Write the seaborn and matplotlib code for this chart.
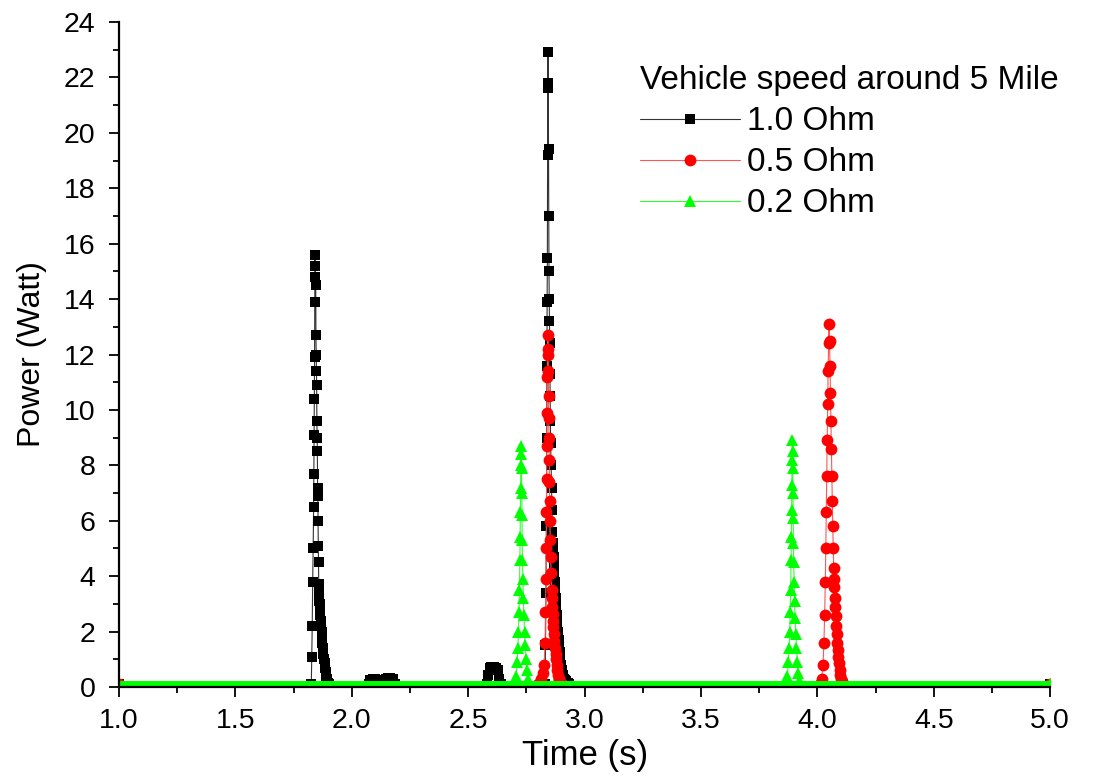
# Power vs time for three load resistances, vehicle speed around 5 mile.

import matplotlib.pyplot as plt
import pandas as pd
import seaborn as sns

# baseline level between pulses
t_ends = [1.0, 5.0]
p_base = 0.1

# 1.0 Ohm (black) - first pulse near 1.84 s
b1_t = [1.826, 1.828, 1.830, 1.832, 1.834, 1.836, 1.837, 1.838, 1.839, 1.840, 1.841, 1.842,
        1.843, 1.844, 1.845, 1.846, 1.847, 1.848, 1.849, 1.850, 1.851, 1.852, 1.853, 1.854,
        1.855, 1.856, 1.857, 1.858, 1.859, 1.860, 1.861, 1.862, 1.864, 1.865, 1.867, 1.868,
        1.870, 1.872, 1.874, 1.876, 1.878, 1.880, 1.883, 1.885, 1.888, 1.890, 1.893, 1.895,
        1.898, 1.900, 1.904]
b1_p = [0.1, 1.1, 2.2, 3.8, 5.0, 6.5, 7.7, 9.1, 10.4, 11.9, 13.9, 15.6,
        15.2, 14.8, 14.5, 12.7, 12.0, 11.4, 10.9, 9.6, 9.0, 8.5, 7.2, 6.9,
        6.0, 5.1, 4.5, 3.7, 3.4, 3.2, 3.1, 3.0, 2.8, 2.6, 2.4, 2.2,
        2.0, 1.8, 1.6, 1.4, 1.2, 1.0, 0.85, 0.7, 0.55, 0.4, 0.3, 0.2,
        0.15, 0.1, 0.1]
# small bumps around 2.1 s and 2.6 s
bb_t = [2.075, 2.080, 2.090, 2.100, 2.110, 2.118, 2.138, 2.145, 2.155, 2.165, 2.175, 2.187,
        2.580, 2.586, 2.592, 2.600, 2.610, 2.620, 2.628, 2.634, 2.640]
bb_p = [0.1, 0.25, 0.28, 0.28, 0.25, 0.1, 0.1, 0.3, 0.32, 0.32, 0.3, 0.1,
        0.1, 0.45, 0.7, 0.72, 0.72, 0.7, 0.6, 0.3, 0.1]
# second pulse near 2.84 s
b2_t = [2.830, 2.832, 2.834, 2.836, 2.837, 2.838, 2.839, 2.840, 2.841, 2.842, 2.843,
        2.844, 2.845, 2.846, 2.847, 2.848, 2.849, 2.850, 2.851, 2.852, 2.853, 2.854, 2.856,
        2.858, 2.860, 2.862, 2.864, 2.865, 2.867, 2.868, 2.870, 2.872, 2.874, 2.876, 2.878,
        2.880, 2.883, 2.885, 2.888, 2.890, 2.893, 2.896, 2.899, 2.902, 2.906, 2.910, 2.915,
        2.920, 2.927, 2.935]
b2_p = [0.1, 1.5, 3.4, 5.8, 9.0, 11.6, 13.9, 15.5, 19.2, 21.8, 22.9,
        21.6, 19.4, 17.0, 15.0, 14.0, 13.2, 12.4, 11.3, 10.5, 9.6, 8.8, 8.0,
        7.2, 6.4, 5.6, 5.2, 5.0, 4.7, 4.4, 4.1, 3.8, 3.5, 3.2, 2.9,
        2.6, 2.3, 2.0, 1.7, 1.5, 1.25, 1.0, 0.8, 0.6, 0.45, 0.3, 0.25,
        0.2, 0.15, 0.1]

# 0.5 Ohm (red)
r1_t = [2.800, 2.812, 2.820, 2.826, 2.830, 2.832, 2.834, 2.835, 2.836, 2.837, 2.838, 2.839,
        2.840, 2.841, 2.842, 2.843, 2.844, 2.845, 2.846, 2.847, 2.848, 2.849, 2.850, 2.851,
        2.852, 2.854, 2.856, 2.858, 2.860, 2.861, 2.863, 2.864, 2.866, 2.868, 2.870, 2.872,
        2.875, 2.877, 2.880, 2.882, 2.885, 2.888, 2.891, 2.895, 2.900, 2.905]
r1_p = [0.1, 0.3, 0.5, 0.8, 1.6, 2.7, 3.9, 5.0, 6.3, 7.5, 8.7, 9.9,
        11.2, 12.2, 12.7, 12.0, 11.4, 10.5, 9.7, 9.0, 8.2, 7.4, 6.7, 6.0,
        5.3, 4.7, 4.1, 3.5, 3.2, 2.9, 2.65, 2.4, 2.15, 1.9, 1.65, 1.4,
        1.2, 1.0, 0.8, 0.6, 0.45, 0.3, 0.25, 0.2, 0.15, 0.1]
r2_t = [4.010, 4.018, 4.024, 4.028, 4.031, 4.034, 4.036, 4.038, 4.040, 4.042, 4.044, 4.046,
        4.048, 4.050, 4.052, 4.054, 4.056, 4.058, 4.060, 4.062, 4.064, 4.066, 4.068, 4.070,
        4.072, 4.073, 4.075, 4.076, 4.078, 4.080, 4.082, 4.084, 4.087, 4.089, 4.092, 4.095,
        4.098, 4.101, 4.104, 4.108]
r2_p = [0.1, 0.3, 0.8, 1.6, 2.6, 3.8, 5.0, 6.3, 7.6, 8.9, 10.2, 11.4,
        12.4, 13.1, 12.5, 11.6, 10.6, 9.6, 8.6, 7.6, 6.7, 5.8, 5.0, 4.3,
        3.9, 3.6, 3.2, 2.9, 2.55, 2.2, 1.9, 1.6, 1.35, 1.1, 0.85, 0.6,
        0.45, 0.3, 0.2, 0.1]

# 0.2 Ohm (green)
g1_t = [2.700, 2.706, 2.710, 2.713, 2.716, 2.718, 2.720, 2.722, 2.723, 2.724, 2.725, 2.726,
        2.727, 2.728, 2.729, 2.730, 2.731, 2.732, 2.733, 2.735, 2.737, 2.739, 2.742, 2.745,
        2.749, 2.753, 2.758, 2.765]
g1_p = [0.1, 0.4, 0.9, 1.4, 2.0, 2.7, 3.5, 4.6, 5.4, 6.3, 7.2, 8.0,
        8.7, 8.4, 7.9, 7.0, 6.2, 5.3, 4.6, 3.9, 3.2, 2.6, 2.0, 1.5,
        1.0, 0.6, 0.3, 0.1]
g2_t = [3.865, 3.871, 3.875, 3.878, 3.881, 3.883, 3.885, 3.887, 3.888, 3.889, 3.890, 3.891,
        3.892, 3.893, 3.894, 3.895, 3.896, 3.897, 3.898, 3.900, 3.902, 3.904, 3.907, 3.910,
        3.914, 3.918, 3.923, 3.930]
g2_p = [0.1, 0.4, 0.9, 1.4, 2.0, 2.7, 3.5, 4.6, 5.4, 6.4, 7.3, 8.2,
        8.9, 8.5, 7.9, 7.0, 6.1, 5.2, 4.5, 3.8, 3.1, 2.5, 1.9, 1.4,
        0.9, 0.5, 0.2, 0.1]

labels = ['1.0 Ohm', '0.5 Ohm', '0.2 Ohm']
colors = ['#000000', '#ff0000', '#00ff00']
markers = ['s', 'o', '^']


def series(ts, ps):
    t = list(t_ends)
    p = [p_base] * len(t_ends)
    for a, b in zip(ts, ps):
        t += a
        p += b
    return pd.DataFrame({'t': t, 'p': p}).sort_values('t')


frames = [series([b1_t, bb_t, b2_t], [b1_p, bb_p, b2_p]),
          series([r1_t, r2_t], [r1_p, r2_p]),
          series([g1_t, g2_t], [g1_p, g2_p])]

sns.set_style('ticks')
plt.rcParams['font.family'] = ['Liberation Sans', 'DejaVu Sans']
plt.rcParams['text.color'] = 'black'
plt.rcParams['axes.labelcolor'] = 'black'

fig = plt.figure(figsize=(11.09, 7.8), dpi=100)
ax = fig.add_axes([0.1073, 0.1192, 0.8397, 0.8526])

msizes = [7.5, 8.5, 9]
line_cols = ['#333333', '#ff5555', '#33ff33']
for df, lab, c, lc, m, ms in zip(frames, labels, colors, line_cols, markers, msizes):
    sns.lineplot(x='t', y='p', data=df, ax=ax, color=lc, lw=0.8, sort=False,
                 estimator=None, marker=m, markersize=ms, markerfacecolor=c,
                 markeredgecolor=c, markeredgewidth=0, label=lab)

# dense baseline samples of the 0.2 Ohm trace
sns.lineplot(x=t_ends, y=[p_base, p_base], ax=ax, color='#00ff00', lw=5,
             legend=False, solid_capstyle='butt')

ax.set_xlim(1.0, 5.0)
ax.set_ylim(0, 24)
ax.set_xticks([1.0, 1.5, 2.0, 2.5, 3.0, 3.5, 4.0, 4.5, 5.0])
ax.set_xticks([1.25, 1.75, 2.25, 2.75, 3.25, 3.75, 4.25, 4.75], minor=True)
ax.set_yticks(range(0, 25, 2))
ax.set_yticks(range(1, 24, 2), minor=True)
ax.tick_params(which='major', direction='out', length=7, width=1.3, labelsize=20.5, colors='black')
ax.tick_params(which='minor', direction='out', length=4, width=1.3, colors='black')
ax.tick_params(axis='x', pad=8)
ax.tick_params(axis='y', pad=10)
sns.despine(ax=ax)
for s in ['left', 'bottom']:
    ax.spines[s].set_linewidth(1.6)
    ax.spines[s].set_color('black')

ax.set_xlabel('Time (s)', fontsize=25, labelpad=4)
ax.set_ylabel('Power (Watt)', fontsize=23, labelpad=12)

h, l = ax.get_legend_handles_labels()
leg = ax.legend(h[:3], l[:3], title='Vehicle speed around 5 Mile', loc='upper left',
                bbox_to_anchor=(0.545, 0.955), frameon=False, fontsize=24,
                title_fontsize=24, handlelength=3.0, handletextpad=0.2,
                labelspacing=0.3, borderaxespad=0, alignment='left')
for txt in leg.get_texts():
    txt.set_color('black')
leg.get_title().set_color('black')

fig.savefig('out.png', dpi=100)
